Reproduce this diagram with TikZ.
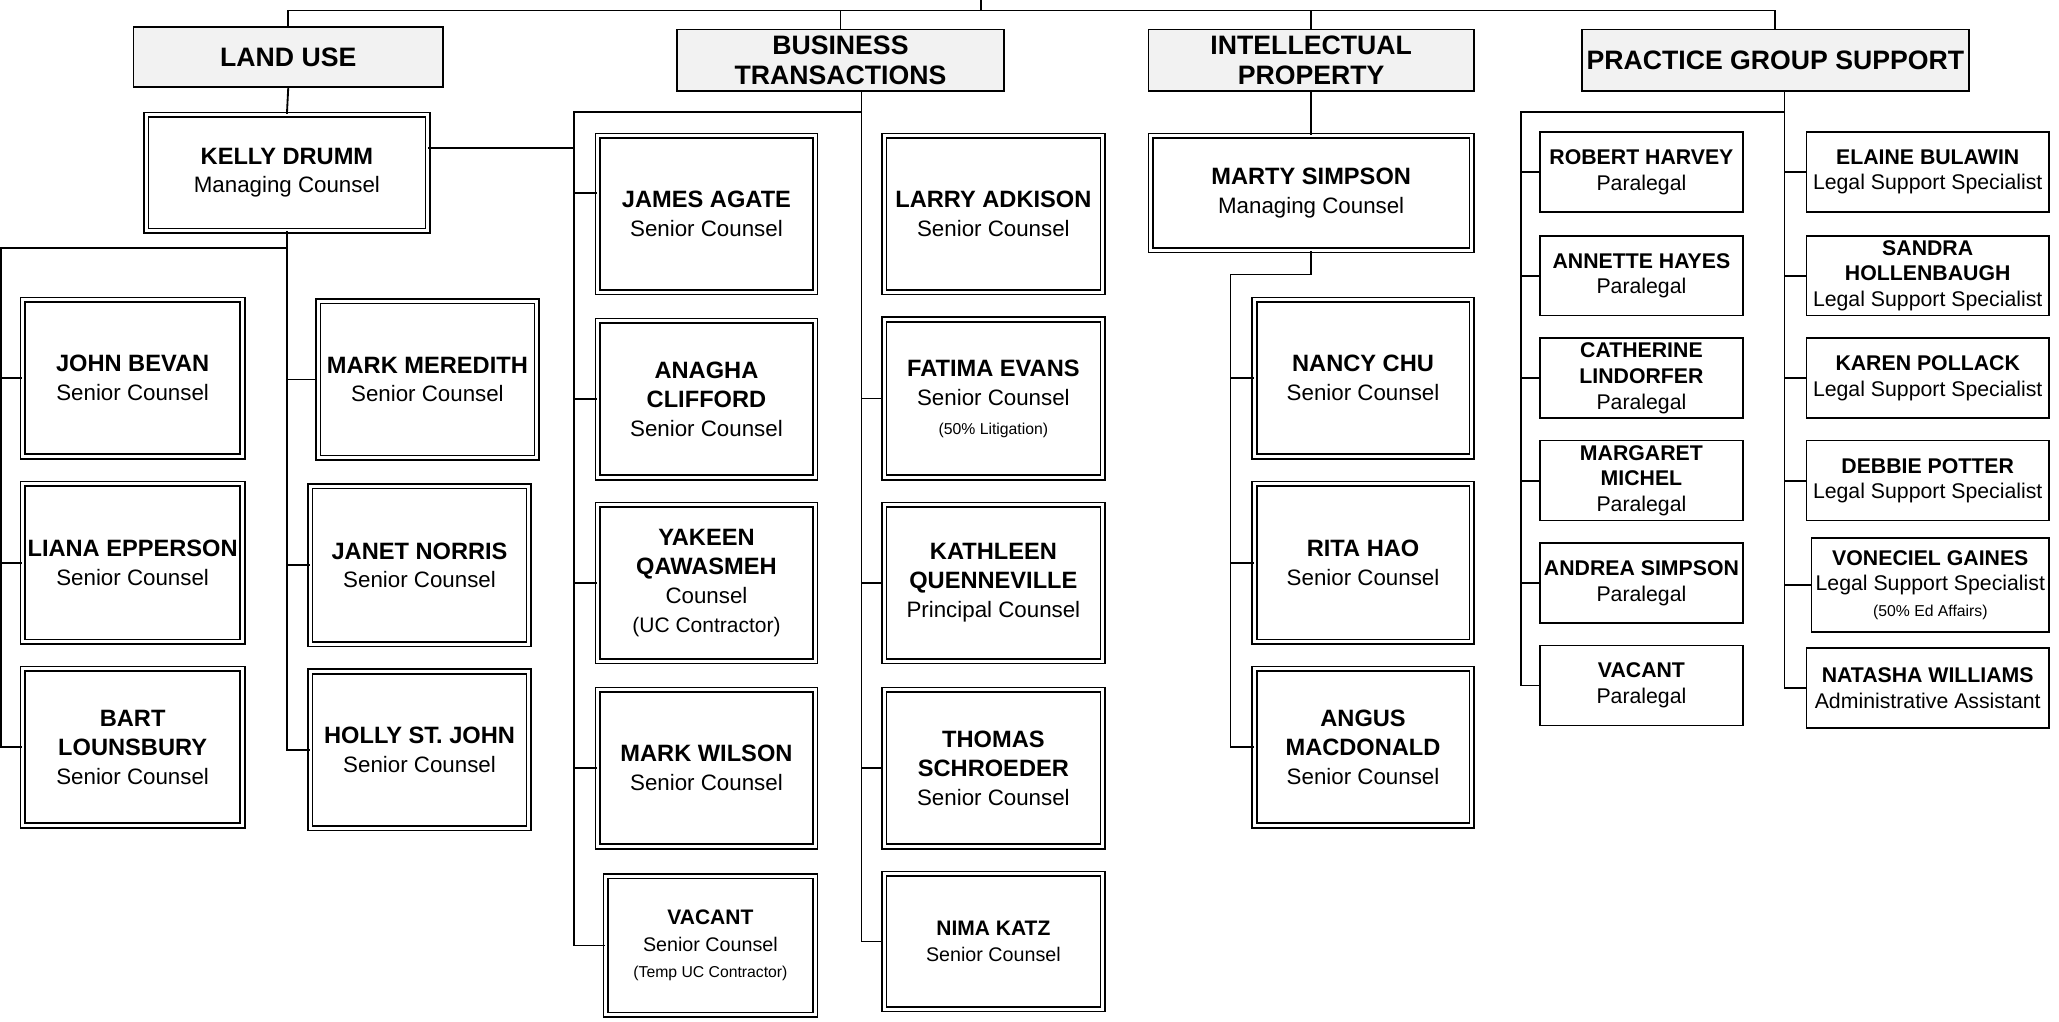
\documentclass[tikz,border=0pt]{standalone}
\usepackage{fontspec}
\setmainfont{Liberation Sans}
\definecolor{hdrgray}{HTML}{F2F2F2}
\newcommand{\nm}[1]{{\bfseries\fontsize{18}{22}\selectfont #1}}
\newcommand{\nms}[1]{{\bfseries\fontsize{16}{20}\selectfont #1}}
\newcommand{\smtxt}[1]{{\fontsize{12}{14}\selectfont #1}}
\begin{document}
\begin{tikzpicture}[x=1pt,y=-1pt,
  conn/.style={line width=1.4pt},
  hdr/.style={draw, line width=1.2pt, fill=hdrgray, align=center, inner sep=0pt,
    font=\fontsize{20.3}{23}\selectfont\bfseries},
  dbox/.style={draw, double, double distance=2.3pt, line width=1.2pt, align=center,
    inner sep=0pt, font=\fontsize{17}{22}\selectfont},
  dboxs/.style={dbox, font=\fontsize{15}{20}\selectfont},
  sbox/.style={draw, line width=1.2pt, align=center, inner sep=0pt,
    font=\fontsize{16.2}{19.5}\selectfont},
  bx/.style 2 args={minimum width=#1pt, minimum height=#2pt}]
\useasboundingbox (0,0) rectangle (1568,778);

% headers
\node[hdr, bx={235.8}{45.8}] (lu) at (219.5,43.5) {LAND USE};
\node[hdr, bx={248.8}{46.8}] (bt) at (640,46) {BUSINESS\\TRANSACTIONS};
\node[hdr, bx={247.8}{46.8}] (ip) at (998.5,46) {INTELLECTUAL\\PROPERTY};
\node[hdr, bx={294.8}{46.8}] (pgs) at (1352,46) {PRACTICE GROUP SUPPORT};

% land use
\node[dbox, bx={214.3}{88.3}] (kelly) at (218.5,131.5) {\nm{KELLY DRUMM}\\Managing Counsel};
\node[dbox, bx={167.3}{119.3}] (john) at (101,288) {\nm{JOHN BEVAN}\\Senior Counsel};
\node[dbox, bx={167.3}{120.3}] (liana) at (101,428.5) {\nm{LIANA EPPERSON}\\Senior Counsel};
\node[dbox, bx={167.3}{119.3}] (bart) at (101,569) {\nm{BART}\\\nm{LOUNSBURY}\\Senior Counsel};
\node[dbox, bx={166.3}{119.3}] (mark) at (325.5,289) {\nm{MARK MEREDITH}\\Senior Counsel};
\node[dbox, bx={166.3}{120.3}] (janet) at (319.5,430.5) {\nm{JANET NORRIS}\\Senior Counsel};
\node[dbox, bx={166.3}{119.3}] (holly) at (319.5,571) {\nm{HOLLY ST. JOHN}\\Senior Counsel};

% business transactions
\node[dbox, bx={165.3}{119.3}] (james) at (538,163) {\nm{JAMES AGATE}\\Senior Counsel};
\node[dbox, bx={165.3}{119.3}] (anagha) at (538,304) {\nm{ANAGHA}\\\nm{CLIFFORD}\\Senior Counsel};
\node[dbox, bx={165.3}{119.3}] (yakeen) at (538,444) {\nm{YAKEEN}\\\nm{QAWASMEH}\\Counsel\\{\fontsize{16}{20}\selectfont (UC Contractor)}};
\node[dbox, bx={165.3}{119.3}] (wilson) at (538,585) {\nm{MARK WILSON}\\Senior Counsel};
\node[dboxs, bx={159.3}{105.3}] (vacant) at (541,720) {\nms{VACANT}\\Senior Counsel\\\smtxt{(Temp UC Contractor)}};
\node[dbox, bx={166.3}{119.3}] (larry) at (756.5,163) {\nm{LARRY ADKISON}\\Senior Counsel};
\node[dbox, bx={166.3}{120.3}] (fatima) at (756.5,303.5) {\nm{FATIMA EVANS}\\Senior Counsel\\\smtxt{(50\% Litigation)}};
\node[dbox, bx={166.3}{119.3}] (kathleen) at (756.5,444) {\nm{KATHLEEN}\\\nm{QUENNEVILLE}\\Principal Counsel};
\node[dbox, bx={166.3}{119.3}] (thomas) at (756.5,585) {\nm{THOMAS}\\\nm{SCHROEDER}\\Senior Counsel};
\node[dboxs, bx={166.3}{103.3}] (nima) at (756.5,717) {\nms{NIMA KATZ}\\Senior Counsel};

% intellectual property
\node[dbox, bx={244.3}{87.3}] (marty) at (998.5,147) {\nm{MARTY SIMPSON}\\Managing Counsel};
\node[dbox, bx={165.3}{119.3}] (nancy) at (1038,288) {\nm{NANCY CHU}\\Senior Counsel};
\node[dbox, bx={165.3}{120.3}] (rita) at (1038,428.5) {\nm{RITA HAO}\\Senior Counsel};
\node[dbox, bx={165.3}{119.3}] (angus) at (1038,569) {\nm{ANGUS}\\\nm{MACDONALD}\\Senior Counsel};

% practice group support
\node[sbox, bx={154.8}{60.8}] (robert) at (1250,131) {\textbf{ROBERT HARVEY}\\Paralegal};
\node[sbox, bx={154.8}{60.8}] (annette) at (1250,210) {\textbf{ANNETTE HAYES}\\Paralegal};
\node[sbox, bx={154.8}{60.8}] (catherine) at (1250,288) {\textbf{CATHERINE}\\\textbf{LINDORFER}\\Paralegal};
\node[sbox, bx={154.8}{60.8}] (margaret) at (1250,366) {\textbf{MARGARET}\\\textbf{MICHEL}\\Paralegal};
\node[sbox, bx={154.8}{60.8}] (andrea) at (1250,444) {\textbf{ANDREA SIMPSON}\\Paralegal};
\node[sbox, bx={154.8}{60.8}] (vacantp) at (1250,522) {\textbf{VACANT}\\Paralegal};
\node[sbox, bx={184.8}{60.8}] (elaine) at (1468,131) {\textbf{ELAINE BULAWIN}\\Legal Support Specialist};
\node[sbox, bx={184.8}{60.8}] (sandra) at (1468,210) {\textbf{SANDRA}\\\textbf{HOLLENBAUGH}\\Legal Support Specialist};
\node[sbox, bx={184.8}{60.8}] (karen) at (1468,288) {\textbf{KAREN POLLACK}\\Legal Support Specialist};
\node[sbox, bx={184.8}{60.8}] (debbie) at (1468,366) {\textbf{DEBBIE POTTER}\\Legal Support Specialist};
\node[sbox, bx={180.8}{71.8}] (voneciel) at (1470,445.5) {\textbf{VONECIEL GAINES}\\Legal Support Specialist\\\smtxt{(50\% Ed Affairs)}};
\node[sbox, bx={184.8}{60.8}] (natasha) at (1468,524) {\textbf{NATASHA WILLIAMS}\\Administrative Assistant};

% connectors: top
\coordinate (root) at (747,0);
\coordinate (top) at (747,8);
\draw[conn] (root) -- (top);
\draw[conn] (top) -| (lu.north);
\draw[conn] (top) -| (bt.north);
\draw[conn] (top) -| (ip.north);
\draw[conn] (top) -| (pgs.north);

% land use connectors
\draw[conn] (lu.south) -- (kelly.north);
\coordinate (luL) at (1,189);
\draw[conn] (kelly.south) |- (luL) |- (bart.west);
\draw[conn] (luL) |- (john.west);
\draw[conn] (luL) |- (liana.west);
\draw[conn] (kelly.south) |- (holly.west);
\draw[conn] (kelly.south) |- (janet.west);
\draw[conn] (kelly.south) |- (mark.west);

% business transactions connectors
\coordinate (btJ) at (656,85);
\coordinate (btL) at (437,85);
\draw[conn] ([xshift=16pt]bt.south) |- (nima.west);
\draw[conn] (btJ) -- (btL) |- (vacant.west);
\draw[conn] (btL) |- ([yshift=16pt]james.west);
\draw[conn] (btL) |- (anagha.west);
\draw[conn] (btL) |- (yakeen.west);
\draw[conn] (btL) |- (wilson.west);
\draw[conn] ([yshift=19pt]kelly.east) -| (btL);
\draw[conn] (btJ) |- (fatima.west);
\draw[conn] (btJ) |- (kathleen.west);
\draw[conn] (btJ) |- (thomas.west);

% intellectual property connectors
\draw[conn] (ip.south) -- (marty.north);
\coordinate (ipL) at (937,209);
\draw[conn] (marty.south) |- (ipL) |- (angus.west);
\draw[conn] (ipL) |- (nancy.west);
\draw[conn] (ipL) |- (rita.west);

% practice group support connectors
\coordinate (pgJ) at (1359,85);
\coordinate (pgL) at (1158,85);
\draw[conn] ([xshift=7pt]pgs.south) |- (natasha.west);
\draw[conn] (pgJ) -- (pgL) |- (vacantp.west);
\draw[conn] (pgL) |- (robert.west);
\draw[conn] (pgL) |- (annette.west);
\draw[conn] (pgL) |- (catherine.west);
\draw[conn] (pgL) |- (margaret.west);
\draw[conn] (pgL) |- (andrea.west);
\draw[conn] (pgJ) |- (elaine.west);
\draw[conn] (pgJ) |- (sandra.west);
\draw[conn] (pgJ) |- (karen.west);
\draw[conn] (pgJ) |- (debbie.west);
\draw[conn] (pgJ) |- (voneciel.west);
\end{tikzpicture}
\end{document}
